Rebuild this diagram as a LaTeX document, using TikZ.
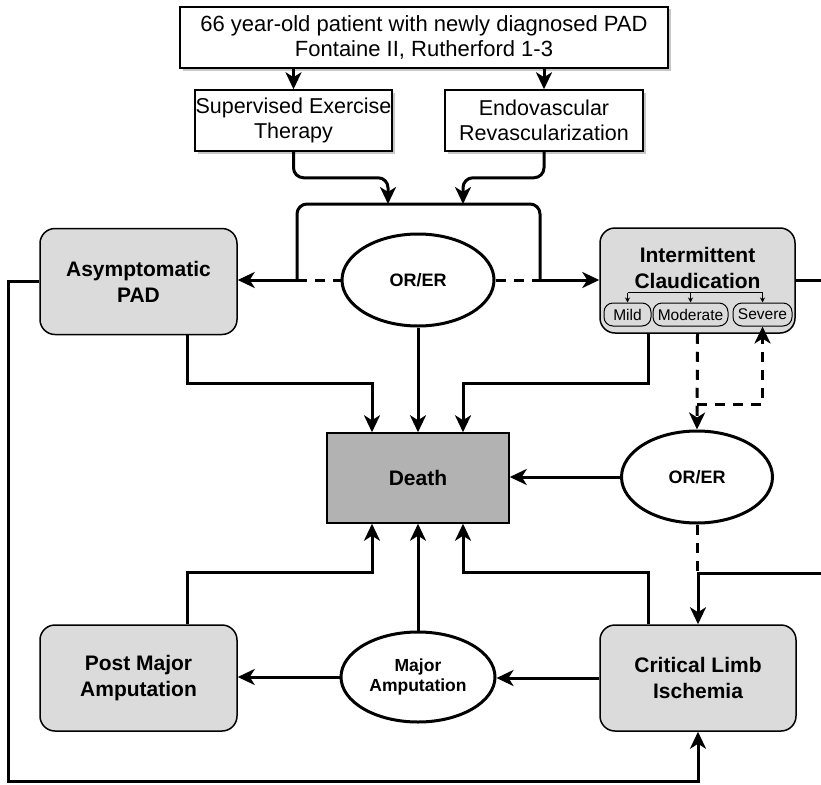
\documentclass[tikz,border=0pt]{standalone}
\usepackage{fontspec}
\setmainfont{Liberation Sans}
\usetikzlibrary{shapes.geometric,arrows.meta,positioning,shadows}

\begin{document}
\begin{tikzpicture}[
			x=1pt, y=-1pt,
			box/.style={rectangle, draw, line width=1.5pt, fill=white, minimum width=#1, minimum height=61pt, inner sep=0pt, align=center, font=\fontsize{21.5}{25}\selectfont, drop shadow={shadow xshift=2.5pt, shadow yshift=-2.5pt, fill=black!22, opacity=1}},
			state/.style={rectangle, draw, line width=1.5pt, rounded corners=15pt, fill=black!14, minimum width=197pt, minimum height=106pt, inner sep=0pt, align=center, font=\fontsize{21}{26}\selectfont\bfseries},
			event/.style={ellipse, draw, line width=3pt, fill=white, minimum width=#1, minimum height=92pt, inner sep=0pt, align=center},
			level/.style={rectangle, draw, line width=1pt, rounded corners=9pt, fill=black!14, minimum height=23pt, inner sep=0pt, font=\fontsize{15.5}{18}\selectfont},
			line/.style={draw, line width=3pt, -{Stealth[length=17pt, width=16pt, inset=5pt]}},
			wire/.style={draw, line width=3pt},
			dline/.style={line, dash pattern=on 10pt off 8pt},
			dwire/.style={wire, dash pattern=on 10pt off 8pt},
			subline/.style={draw, line width=1pt, -{Stealth[length=5pt, width=5pt]}}
			]
			\clip (0,0) rectangle (821,784);
			% Nodes
			\node [box=488pt, font=\fontsize{22}{25}\selectfont] (top) at (424,37.5) {66 year-old patient with newly diagnosed PAD \\ Fontaine II, Rutherford 1-3};
			\node [box=197pt] (set) at (293.5,120.5) {Supervised Exercise \\ Therapy};
			\node [box=198pt] (evr) at (544,120.5) {Endovascular \\ Revascularization};
			\node [state] (asym) at (138.5,281.5) {Asymptomatic \\ PAD};
			\node [state, minimum width=195pt, minimum height=105pt] (ic) at (697.5,280.5) {};
			\node [font=\fontsize{21}{26}\selectfont\bfseries, align=center] (ictitle) at (697.5,268) {Intermittent \\ Claudication};
			\node [level, minimum width=47pt] (mild) at (627.5,314.5) {Mild};
			\node [level, minimum width=75pt] (moderate) at (690.5,314.5) {Moderate};
			\node [level, minimum width=59pt] (severe) at (762.5,314.5) {Severe};
			\node [event=152pt, font=\fontsize{18}{21}\selectfont\bfseries] (oe1) at (418,280) {OR/ER};
			\node [rectangle, draw, line width=1.5pt, fill=black!30, minimum width=182pt, minimum height=90pt, font=\fontsize{21}{26}\selectfont\bfseries] (death) at (418,478) {Death};
			\node [event=151pt, font=\fontsize{18}{21}\selectfont\bfseries] (oe2) at (697,477) {OR/ER};
			\node [state] (pma) at (138.5,678) {Post Major \\ Amputation};
			\node [event=154pt, minimum height=90pt, font=\fontsize{17.5}{20.5}\selectfont\bfseries] (ma) at (418,677) {Major \\ Amputation};
			\node [state, minimum width=196pt] (cli) at (698,678) {Critical Limb \\ Ischemia};

			\coordinate (brl) at (297,280);
			\coordinate (brr) at (540,280);
			\coordinate (inl) at (388,204);
			\coordinate (inr) at (463,204);
			\coordinate (j1) at (697,404);
			\coordinate (j2) at (697,573);
			\coordinate (rt) at (845,573);
			\coordinate (lt) at (8,781);

			% Connections
			\path [line] (top.south -| set) -- (set.north);
			\path [line] (top.south -| evr) -- (evr.north);
			\path [line, rounded corners=10pt] (set.south) -- ++(0,26) -| (inl);
			\path [line, rounded corners=10pt] (evr.south) -- ++(0,26) -| (inr);
			\path [wire, rounded corners=10pt] (brl) -- ++(0,-76) -| (brr);
			\path [line] (brl) -- (asym.east |- brl);
			\path [line] (brr) -- (ic.west |- brr);
			\path [dwire] (brl) -- (oe1.west);
			\path [dwire] (oe1.east) -- (brr);
			\path [subline] ([yshift=10pt]mild.north) -- (mild.north);
			\path [subline] ([yshift=10pt]moderate.north) -- (moderate.north);
			\path [subline] ([yshift=10pt]severe.north) -- (severe.north);
			\path [draw, line width=1pt] ([yshift=10pt]mild.north) -- ([yshift=10pt]severe.north);

			\path [line] (oe1.south) -- (death.north);
			\path [line] ([xshift=48.5pt]asym.south) -- ++(0,48) -| ([xshift=-46pt]death.north);
			\path [line] ([xshift=-49.5pt]ic.south) -- ++(0,50) -| ([xshift=45pt]death.north);
			\path [line] (oe2.west) -- (death.east |- oe2.west);
			\path [line] ([xshift=48.5pt]pma.north) -- ++(0,-52) -| ([xshift=-46pt]death.south);
			\path [line] ([xshift=-50pt]cli.north) -- ++(0,-52) -| ([xshift=45pt]death.south);
			\path [line] (ma.north) -- (death.south);
			\path [line] (cli.west) -- (ma.east |- cli.west);
			\path [line] (ma.west) -- (pma.east |- ma.west);

			\path [dline] (ic.south) -- (oe2.north);
			\path [dline] (j1) -| (severe.south);
			\path [dwire] (oe2.south) -- (j2);
			\path [line] (ic.east) -| (rt) -| (cli.north);
			\path [line] (asym.west) -| (lt) -| (cli.south);
		\end{tikzpicture}
\end{document}
